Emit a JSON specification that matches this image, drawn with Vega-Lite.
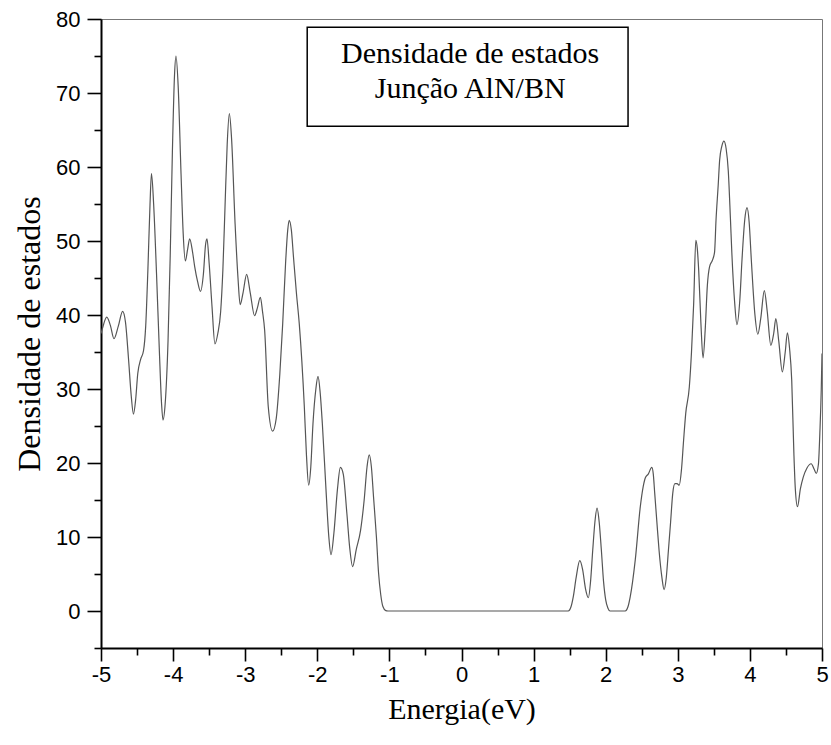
{
  "$schema": "https://vega.github.io/schema/vega-lite/v6.json",
  "width": 721,
  "height": 629,
  "autosize": {"type": "none"},
  "padding": {"left": 101, "top": 19, "right": 9, "bottom": 97},
  "background": "white",
  "datasets": {
    "dos": [
      {"E": -5.00, "D": 37.5}, {"E": -4.98, "D": 38.2}, {"E": -4.92, "D": 39.7}, {"E": -4.87, "D": 38.6},
      {"E": -4.82, "D": 36.8}, {"E": -4.76, "D": 38.5}, {"E": -4.70, "D": 40.5}, {"E": -4.66, "D": 39.0},
      {"E": -4.62, "D": 34.3}, {"E": -4.58, "D": 29.0}, {"E": -4.55, "D": 26.6}, {"E": -4.52, "D": 28.5},
      {"E": -4.49, "D": 32.1}, {"E": -4.45, "D": 34.0}, {"E": -4.41, "D": 35.2}, {"E": -4.38, "D": 38.5},
      {"E": -4.35, "D": 46.0}, {"E": -4.32, "D": 55.0}, {"E": -4.30, "D": 59.1}, {"E": -4.27, "D": 55.0},
      {"E": -4.23, "D": 45.6}, {"E": -4.19, "D": 35.0}, {"E": -4.16, "D": 28.0}, {"E": -4.14, "D": 25.8},
      {"E": -4.11, "D": 28.0}, {"E": -4.07, "D": 36.6}, {"E": -4.04, "D": 48.0}, {"E": -4.01, "D": 62.0},
      {"E": -3.98, "D": 72.5}, {"E": -3.96, "D": 75.0}, {"E": -3.93, "D": 71.0}, {"E": -3.89, "D": 59.1},
      {"E": -3.86, "D": 51.0}, {"E": -3.83, "D": 47.3}, {"E": -3.80, "D": 48.8}, {"E": -3.77, "D": 50.3},
      {"E": -3.73, "D": 48.5}, {"E": -3.70, "D": 46.5}, {"E": -3.66, "D": 44.5}, {"E": -3.62, "D": 43.2},
      {"E": -3.58, "D": 45.5}, {"E": -3.55, "D": 49.5}, {"E": -3.53, "D": 50.3}, {"E": -3.50, "D": 47.0},
      {"E": -3.46, "D": 41.1}, {"E": -3.42, "D": 36.1}, {"E": -3.38, "D": 37.5}, {"E": -3.34, "D": 40.5},
      {"E": -3.31, "D": 46.0}, {"E": -3.28, "D": 54.6}, {"E": -3.25, "D": 63.0}, {"E": -3.22, "D": 67.2},
      {"E": -3.19, "D": 64.0}, {"E": -3.14, "D": 52.3}, {"E": -3.10, "D": 45.0}, {"E": -3.07, "D": 41.4},
      {"E": -3.03, "D": 43.0}, {"E": -2.98, "D": 45.5}, {"E": -2.93, "D": 43.0}, {"E": -2.87, "D": 39.9},
      {"E": -2.83, "D": 41.0}, {"E": -2.79, "D": 42.4}, {"E": -2.76, "D": 40.5}, {"E": -2.73, "D": 37.9},
      {"E": -2.68, "D": 27.6}, {"E": -2.62, "D": 24.3}, {"E": -2.57, "D": 26.0}, {"E": -2.52, "D": 32.0},
      {"E": -2.48, "D": 38.8}, {"E": -2.44, "D": 47.0}, {"E": -2.41, "D": 51.5}, {"E": -2.39, "D": 52.8},
      {"E": -2.36, "D": 51.5}, {"E": -2.33, "D": 47.8}, {"E": -2.29, "D": 43.0}, {"E": -2.25, "D": 38.8},
      {"E": -2.18, "D": 27.6}, {"E": -2.15, "D": 21.0}, {"E": -2.12, "D": 17.0}, {"E": -2.09, "D": 19.5},
      {"E": -2.06, "D": 25.3}, {"E": -2.02, "D": 30.0}, {"E": -1.99, "D": 31.7}, {"E": -1.96, "D": 29.5},
      {"E": -1.93, "D": 25.3}, {"E": -1.88, "D": 16.5}, {"E": -1.84, "D": 10.0}, {"E": -1.81, "D": 7.6},
      {"E": -1.77, "D": 10.5}, {"E": -1.72, "D": 16.5}, {"E": -1.68, "D": 19.4}, {"E": -1.64, "D": 18.5},
      {"E": -1.59, "D": 13.2}, {"E": -1.55, "D": 8.5}, {"E": -1.51, "D": 6.0}, {"E": -1.46, "D": 8.3},
      {"E": -1.40, "D": 10.9}, {"E": -1.35, "D": 15.0}, {"E": -1.31, "D": 19.5}, {"E": -1.28, "D": 21.1},
      {"E": -1.25, "D": 19.5}, {"E": -1.22, "D": 15.4}, {"E": -1.18, "D": 10.0}, {"E": -1.15, "D": 5.1},
      {"E": -1.12, "D": 2.2}, {"E": -1.09, "D": 0.6}, {"E": -1.05, "D": 0.05}, {"E": -1.02, "D": 0},
      {"E": 1.48, "D": 0}, {"E": 1.52, "D": 0.6}, {"E": 1.55, "D": 1.9}, {"E": 1.59, "D": 4.5},
      {"E": 1.64, "D": 6.8}, {"E": 1.68, "D": 5.6}, {"E": 1.72, "D": 3.0}, {"E": 1.76, "D": 1.8},
      {"E": 1.79, "D": 4.0}, {"E": 1.82, "D": 8.2}, {"E": 1.85, "D": 12.0}, {"E": 1.88, "D": 13.9},
      {"E": 1.91, "D": 12.0}, {"E": 1.94, "D": 8.2}, {"E": 1.97, "D": 4.0}, {"E": 2.00, "D": 1.5},
      {"E": 2.03, "D": 0.4}, {"E": 2.06, "D": 0}, {"E": 2.27, "D": 0}, {"E": 2.31, "D": 0.6},
      {"E": 2.34, "D": 1.9}, {"E": 2.41, "D": 6.9}, {"E": 2.48, "D": 14.1}, {"E": 2.52, "D": 16.8},
      {"E": 2.55, "D": 18.0}, {"E": 2.59, "D": 18.5}, {"E": 2.64, "D": 19.4}, {"E": 2.66, "D": 18.5},
      {"E": 2.68, "D": 15.9}, {"E": 2.71, "D": 12.0}, {"E": 2.74, "D": 8.2}, {"E": 2.78, "D": 4.5},
      {"E": 2.81, "D": 2.9}, {"E": 2.84, "D": 4.5}, {"E": 2.87, "D": 8.2}, {"E": 2.90, "D": 12.0},
      {"E": 2.93, "D": 15.9}, {"E": 2.96, "D": 17.2}, {"E": 2.99, "D": 17.2}, {"E": 3.02, "D": 17.0},
      {"E": 3.05, "D": 19.0}, {"E": 3.08, "D": 23.0}, {"E": 3.11, "D": 26.7}, {"E": 3.16, "D": 30.3},
      {"E": 3.19, "D": 35.0}, {"E": 3.22, "D": 41.5}, {"E": 3.25, "D": 50.1}, {"E": 3.27, "D": 49.0},
      {"E": 3.29, "D": 46.0}, {"E": 3.32, "D": 39.0}, {"E": 3.35, "D": 34.2}, {"E": 3.38, "D": 38.0},
      {"E": 3.41, "D": 44.0}, {"E": 3.44, "D": 46.5}, {"E": 3.48, "D": 47.4}, {"E": 3.51, "D": 48.5},
      {"E": 3.53, "D": 52.8}, {"E": 3.56, "D": 57.5}, {"E": 3.58, "D": 60.9}, {"E": 3.61, "D": 62.8},
      {"E": 3.64, "D": 63.5}, {"E": 3.67, "D": 62.5}, {"E": 3.70, "D": 59.5}, {"E": 3.73, "D": 53.0},
      {"E": 3.75, "D": 48.3}, {"E": 3.79, "D": 41.5}, {"E": 3.82, "D": 38.7}, {"E": 3.86, "D": 42.0},
      {"E": 3.89, "D": 47.4}, {"E": 3.93, "D": 53.0}, {"E": 3.96, "D": 54.5}, {"E": 3.99, "D": 52.5},
      {"E": 4.02, "D": 47.4}, {"E": 4.07, "D": 40.0}, {"E": 4.11, "D": 37.4}, {"E": 4.15, "D": 39.5},
      {"E": 4.20, "D": 43.3}, {"E": 4.24, "D": 40.5}, {"E": 4.29, "D": 35.9}, {"E": 4.33, "D": 37.5},
      {"E": 4.36, "D": 39.5}, {"E": 4.40, "D": 36.5}, {"E": 4.45, "D": 32.3}, {"E": 4.49, "D": 35.0},
      {"E": 4.52, "D": 37.6}, {"E": 4.55, "D": 35.5}, {"E": 4.58, "D": 31.2}, {"E": 4.61, "D": 21.3},
      {"E": 4.63, "D": 16.5}, {"E": 4.66, "D": 14.1}, {"E": 4.70, "D": 16.5}, {"E": 4.74, "D": 18.1},
      {"E": 4.79, "D": 19.3}, {"E": 4.85, "D": 19.9}, {"E": 4.89, "D": 19.2}, {"E": 4.92, "D": 18.6},
      {"E": 4.95, "D": 19.8}, {"E": 4.97, "D": 24.0}, {"E": 4.99, "D": 30.0}, {"E": 5.00, "D": 34.8}
    ]
  },
  "config": {
    "view": {"stroke": "#777", "strokeWidth": 1},
    "axis": {
      "grid": false,
      "domainColor": "black",
      "domainWidth": 2,
      "tickColor": "black",
      "tickWidth": 1.6,
      "labelFont": "Liberation Sans",
      "labelFontSize": 22,
      "labelColor": "black",
      "titleFont": "Liberation Serif",
      "titleFontSize": 30,
      "titleFontWeight": "normal",
      "titleColor": "black"
    }
  },
  "resolve": {"axis": {"x": "independent", "y": "independent"}},
  "layer": [
    {
      "data": {"name": "dos"},
      "mark": {"type": "line", "opacity": 0},
      "encoding": {
        "x": {
          "field": "E",
          "type": "quantitative",
          "scale": {"domain": [-5, 5], "nice": false, "zero": false},
          "axis": {
            "orient": "bottom",
            "title": null,
            "values": [-4.5, -3.5, -2.5, -1.5, -0.5, 0.5, 1.5, 2.5, 3.5, 4.5],
            "labels": false,
            "domain": false,
            "tickSize": 7
          }
        },
        "y": {
          "field": "D",
          "type": "quantitative",
          "scale": {"domain": [-5, 80], "nice": false, "zero": false},
          "axis": {
            "orient": "left",
            "title": null,
            "values": [-5, 5, 15, 25, 35, 45, 55, 65, 75],
            "labels": false,
            "domain": false,
            "tickSize": 7
          }
        }
      }
    },
    {
      "data": {"name": "dos"},
      "mark": {"type": "line", "interpolate": "monotone", "color": "#555", "strokeWidth": 1.2, "clip": true},
      "encoding": {
        "x": {
          "field": "E",
          "type": "quantitative",
          "scale": {"domain": [-5, 5], "nice": false, "zero": false},
          "axis": {
            "orient": "bottom",
            "title": "Energia(eV)",
            "values": [-5, -4, -3, -2, -1, 0, 1, 2, 3, 4, 5],
            "labelExpr": "toString(datum.value)",
            "tickSize": 13,
            "labelPadding": 3,
            "labelFlush": false,
            "labelOverlap": false,
            "titlePadding": 9
          }
        },
        "y": {
          "field": "D",
          "type": "quantitative",
          "scale": {"domain": [-5, 80], "nice": false, "zero": false},
          "axis": {
            "orient": "left",
            "title": "Densidade de estados",
            "titleFontSize": 32,
            "values": [0, 10, 20, 30, 40, 50, 60, 70, 80],
            "labelExpr": "toString(datum.value)",
            "tickSize": 14,
            "labelPadding": 7,
            "labelFlush": false,
            "labelOverlap": false,
            "titlePadding": 9
          }
        }
      }
    },
    {
      "data": {"values": [{}]},
      "mark": {"type": "rect", "fill": "white", "stroke": "black", "strokeWidth": 1.5},
      "encoding": {
        "x": {"datum": -2.14, "type": "quantitative", "axis": null},
        "x2": {"datum": 2.31},
        "y": {"datum": 65.5, "type": "quantitative", "axis": null},
        "y2": {"datum": 78.9}
      }
    },
    {
      "data": {"values": [{}]},
      "mark": {"type": "text", "font": "Liberation Serif", "fontSize": 30, "align": "center", "baseline": "alphabetic", "color": "black"},
      "encoding": {
        "x": {"datum": 0.12, "type": "quantitative", "axis": null},
        "y": {"datum": 74.1, "type": "quantitative", "axis": null},
        "text": {"value": "Densidade de estados"}
      }
    },
    {
      "data": {"values": [{}]},
      "mark": {"type": "text", "font": "Liberation Serif", "fontSize": 30, "align": "center", "baseline": "alphabetic", "color": "black"},
      "encoding": {
        "x": {"datum": 0.12, "type": "quantitative", "axis": null},
        "y": {"datum": 69.3, "type": "quantitative", "axis": null},
        "text": {"value": "Junção AlN/BN"}
      }
    }
  ]
}
